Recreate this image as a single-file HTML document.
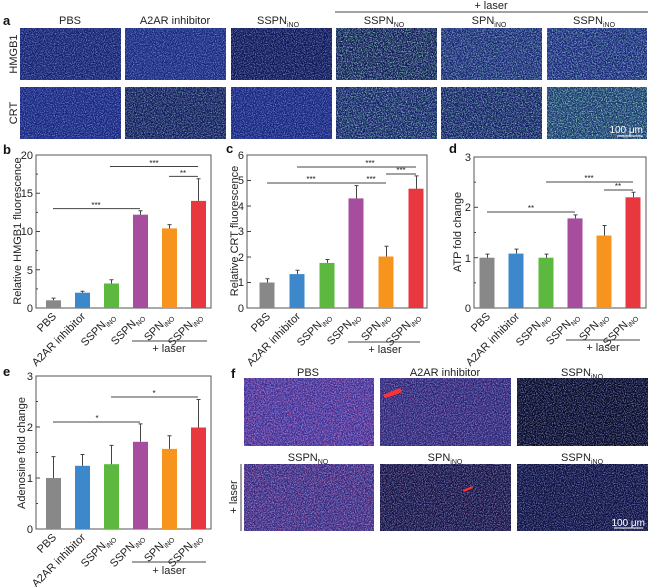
<!DOCTYPE html>
<html><head><meta charset="utf-8"><style>
html,body{margin:0;padding:0;background:#fff}
svg{display:block;font-family:"Liberation Sans",Arial,sans-serif}
</style></head><body>
<svg width="650" height="587" viewBox="0 0 650 587" xmlns="http://www.w3.org/2000/svg">
<defs>
<filter id="nb" x="0" y="0" width="1" height="1"><feTurbulence type="fractalNoise" baseFrequency="0.9" numOctaves="2" seed="3"/><feColorMatrix type="matrix" values="0 0 0 0 0.3  0 0 0 0 0.4  0 0 0 0 0.95  0 0 0 -2.6 1.5"/></filter>
<filter id="ng" x="0" y="0" width="1" height="1"><feTurbulence type="fractalNoise" baseFrequency="0.8" numOctaves="1" seed="8"/><feColorMatrix type="matrix" values="0 0 0 0 0.3  0 0 0 0 0.9  0 0 0 0 0.5  0 0 0 -4 2.0"/></filter>
<filter id="nr" x="0" y="0" width="1" height="1"><feTurbulence type="fractalNoise" baseFrequency="0.7" numOctaves="2" seed="5"/><feColorMatrix type="matrix" values="0 0 0 0 0.95  0 0 0 0 0.2  0 0 0 0 0.45  0 0 0 -3.5 1.8"/></filter>
</defs>
<style>
.t{font-size:11px;fill:#222}
.s{font-size:7px}
.ax{fill:none;stroke:#555;stroke-width:1}
.l{stroke:#444;stroke-width:1}
.e{stroke:#444;stroke-width:1}
.st{font-size:8px;fill:#222;text-anchor:middle}
.pl{font-size:13px;font-weight:bold;fill:#111}
.nb{opacity:0.75}
</style>

<!-- Panel a -->
<text class="pl" x="3" y="25">a</text>
<line x1="335" y1="12" x2="648" y2="12" class="l"/>
<text class="t" x="491" y="9" text-anchor="middle">+ laser</text>
<g class="t" text-anchor="middle">
<text x="70" y="24">PBS</text>
<text x="175" y="24">A2AR inhibitor</text>
<text x="278" y="24">SSPN<tspan class="s" dy="3">iNO</tspan></text>
<text x="384" y="24">SSPN<tspan class="s" dy="3">NO</tspan></text>
<text x="489" y="24">SPN<tspan class="s" dy="3">iNO</tspan></text>
<text x="594" y="24">SSPN<tspan class="s" dy="3">iNO</tspan></text>
</g>
<text class="t" transform="translate(17,54) rotate(-90)" text-anchor="middle">HMGB1</text>
<text class="t" transform="translate(17,113) rotate(-90)" text-anchor="middle">CRT</text>
<g>
<rect x="20" y="28" width="101" height="52" fill="#14206a"/><rect class="nb" x="20" y="28" width="101" height="52" filter="url(#nb)"/>
<rect x="125" y="28" width="101" height="52" fill="#18287a"/><rect class="nb" x="125" y="28" width="101" height="52" filter="url(#nb)"/>
<rect x="231" y="28" width="101" height="52" fill="#0e1650"/><rect class="nb" x="231" y="28" width="101" height="52" filter="url(#nb)"/>
<rect x="336" y="28" width="101" height="52" fill="#0c1448"/><rect class="nb" x="336" y="28" width="101" height="52" filter="url(#nb)"/><rect x="336" y="28" width="101" height="52" filter="url(#ng)" opacity="0.7"/>
<rect x="441" y="28" width="101" height="52" fill="#14206a"/><rect class="nb" x="441" y="28" width="101" height="52" filter="url(#nb)"/><rect x="441" y="28" width="101" height="52" filter="url(#ng)" opacity="0.6"/>
<rect x="547" y="28" width="100" height="52" fill="#142070"/><rect class="nb" x="547" y="28" width="100" height="52" filter="url(#nb)"/><rect x="547" y="28" width="100" height="52" filter="url(#ng)" opacity="0.6"/>
<rect x="20" y="87" width="101" height="52" fill="#16247a"/><rect class="nb" x="20" y="87" width="101" height="52" filter="url(#nb)"/>
<rect x="125" y="87" width="101" height="52" fill="#0e1650"/><rect class="nb" x="125" y="87" width="101" height="52" filter="url(#nb)"/><rect x="125" y="87" width="101" height="52" filter="url(#ng)" opacity="0.35"/>
<rect x="231" y="87" width="101" height="52" fill="#16247a"/><rect class="nb" x="231" y="87" width="101" height="52" filter="url(#nb)"/>
<rect x="336" y="87" width="101" height="52" fill="#0e1858"/><rect class="nb" x="336" y="87" width="101" height="52" filter="url(#nb)"/><rect x="336" y="87" width="101" height="52" filter="url(#ng)" opacity="0.7"/>
<rect x="441" y="87" width="101" height="52" fill="#0e1858"/><rect class="nb" x="441" y="87" width="101" height="52" filter="url(#nb)"/><rect x="441" y="87" width="101" height="52" filter="url(#ng)" opacity="0.6"/>
<rect x="547" y="87" width="100" height="52" fill="#123060"/><rect class="nb" x="547" y="87" width="100" height="52" filter="url(#nb)"/><rect x="547" y="87" width="100" height="52" filter="url(#ng)" opacity="0.8"/>
</g>
<text x="643" y="133" font-size="10" fill="#fff" text-anchor="end">100 μm</text>
<line x1="617" y1="136" x2="643" y2="136" stroke="#fff"/>

<!-- Panel b -->
<text class="pl" x="3" y="154">b</text>
<rect x="36" y="155" width="175" height="153" class="ax"/>
<g class="l">
<line x1="36" y1="269.75" x2="40" y2="269.75"/><line x1="36" y1="231.5" x2="40" y2="231.5"/><line x1="36" y1="193.25" x2="40" y2="193.25"/>
<line x1="36" y1="288.9" x2="38" y2="288.9"/><line x1="36" y1="250.6" x2="38" y2="250.6"/><line x1="36" y1="212.4" x2="38" y2="212.4"/><line x1="36" y1="174.1" x2="38" y2="174.1"/>
</g>
<g class="t" text-anchor="end"><text x="33" y="312">0</text><text x="33" y="274">5</text><text x="33" y="235">10</text><text x="33" y="197">15</text><text x="33" y="159">20</text></g>
<text class="t" transform="translate(21,231) rotate(-90)" text-anchor="middle">Relative HMGB1 fluorescence</text>
<rect x="46" y="300.3" width="15" height="7.7" fill="#888"/>
<rect x="75" y="292.7" width="15" height="15.3" fill="#3d87cb"/>
<rect x="104" y="283.5" width="15" height="24.5" fill="#5cb83e"/>
<rect x="133" y="214.7" width="15" height="93.3" fill="#a64d9e"/>
<rect x="162" y="228.4" width="15" height="79.6" fill="#f7941d"/>
<rect x="191" y="200.9" width="15" height="107.1" fill="#e8373f"/>
<g class="e">
<path d="M53.5 300.3V298.1M51.5 298.1h4M82.5 292.7V291.2M80.5 291.2h4M111.5 283.5V279.7M109.5 279.7h4M140.5 214.7V210.8M138.5 210.8h4M169.5 228.4V224.6M167.5 224.6h4M198.5 200.9V178.7M196.5 178.7h4"/>
</g>
<g class="l"><line x1="53" y1="208.6" x2="140" y2="208.6"/><line x1="110" y1="166.5" x2="198" y2="166.5"/><line x1="169" y1="176.4" x2="198" y2="176.4"/></g>
<text class="st" x="96" y="208">***</text><text class="st" x="154" y="166">***</text><text class="st" x="183" y="176">**</text>

<!-- Panel c -->
<text class="pl" x="226" y="153">c</text>
<rect x="247" y="155" width="180" height="153" class="ax"/>
<g class="l">
<line x1="247" y1="282.5" x2="251" y2="282.5"/><line x1="247" y1="257" x2="251" y2="257"/><line x1="247" y1="231.5" x2="251" y2="231.5"/><line x1="247" y1="206" x2="251" y2="206"/><line x1="247" y1="180.5" x2="251" y2="180.5"/>
</g>
<g class="t" text-anchor="end"><text x="244" y="312">0</text><text x="244" y="286">1</text><text x="244" y="261">2</text><text x="244" y="235">3</text><text x="244" y="210">4</text><text x="244" y="184">5</text><text x="244" y="159">6</text></g>
<text class="t" transform="translate(238,231) rotate(-90)" text-anchor="middle">Relative CRT fluorescence</text>
<rect x="259.5" y="282.5" width="15" height="25.5" fill="#888"/>
<rect x="289.5" y="274.1" width="15" height="33.9" fill="#3d87cb"/>
<rect x="319.5" y="262.9" width="15" height="45.1" fill="#5cb83e"/>
<rect x="348.5" y="198.4" width="15" height="109.6" fill="#a64d9e"/>
<rect x="378.5" y="256.5" width="15" height="51.5" fill="#f7941d"/>
<rect x="408.5" y="188.7" width="15" height="119.3" fill="#e8373f"/>
<g class="e">
<path d="M267.5 282.5V278.7M265.5 278.7h4M297.5 274.1V270.3M295.5 270.3h4M327.5 262.9V259.5M325.5 259.5h4M356.5 198.4V185.6M354.5 185.6h4M386.5 256.5V246.3M384.5 246.3h4M416.5 188.7V175.9M414.5 175.9h4"/>
</g>
<g class="l"><line x1="267" y1="183" x2="356" y2="183"/><line x1="297" y1="167" x2="416" y2="167"/><line x1="356" y1="183" x2="386" y2="183"/><line x1="386" y1="174" x2="416" y2="174"/></g>
<text class="st" x="311" y="182">***</text><text class="st" x="370" y="166">***</text><text class="st" x="371" y="182">***</text><text class="st" x="401" y="173">***</text>

<!-- Panel d -->
<text class="pl" x="449" y="153">d</text>
<rect x="474" y="157" width="172" height="151" class="ax"/>
<g class="l">
<line x1="474" y1="257.7" x2="478" y2="257.7"/><line x1="474" y1="207.3" x2="478" y2="207.3"/>
<line x1="474" y1="282.8" x2="476" y2="282.8"/><line x1="474" y1="232.5" x2="476" y2="232.5"/><line x1="474" y1="182.2" x2="476" y2="182.2"/>
</g>
<g class="t" text-anchor="end"><text x="471" y="312">0</text><text x="471" y="262">1</text><text x="471" y="211">2</text><text x="471" y="161">3</text></g>
<text class="t" transform="translate(461,232) rotate(-90)" text-anchor="middle">ATP fold change</text>
<rect x="479.5" y="257.7" width="15" height="50.3" fill="#888"/>
<rect x="508.5" y="253.6" width="15" height="54.4" fill="#3d87cb"/>
<rect x="538.5" y="257.7" width="15" height="50.3" fill="#5cb83e"/>
<rect x="567.5" y="218.4" width="15" height="89.6" fill="#a64d9e"/>
<rect x="596.5" y="235.5" width="15" height="72.5" fill="#f7941d"/>
<rect x="625.5" y="197.3" width="15" height="110.7" fill="#e8373f"/>
<g class="e">
<path d="M487.5 257.7V254.1M485.5 254.1h4M516.5 253.6V249.1M514.5 249.1h4M546.5 257.7V254.1M544.5 254.1h4M575.5 218.4V214.9M573.5 214.9h4M604.5 235.5V225.5M602.5 225.5h4M633.5 197.3V192.2M631.5 192.2h4"/>
</g>
<g class="l"><line x1="487" y1="212" x2="575" y2="212"/><line x1="546" y1="182" x2="633" y2="182"/><line x1="604" y1="190" x2="633" y2="190"/></g>
<text class="st" x="531" y="211">**</text><text class="st" x="589" y="181">***</text><text class="st" x="618" y="189">**</text>

<!-- x labels b,c,d -->
<g class="t" text-anchor="end">
<text transform="translate(57,317) rotate(-45)">PBS</text>
<text transform="translate(86,317) rotate(-45)">A2AR inhibitor</text>
<text transform="translate(115,317) rotate(-45)">SSPN<tspan class="s" dy="3">iNO</tspan></text>
<text transform="translate(144,317) rotate(-45)">SSPN<tspan class="s" dy="3">NO</tspan></text>
<text transform="translate(173,317) rotate(-45)">SPN<tspan class="s" dy="3">iNO</tspan></text>
<text transform="translate(202,317) rotate(-45)">SSPN<tspan class="s" dy="3">iNO</tspan></text>
<text transform="translate(271,317) rotate(-45)">PBS</text>
<text transform="translate(301,317) rotate(-45)">A2AR inhibitor</text>
<text transform="translate(331,317) rotate(-45)">SSPN<tspan class="s" dy="3">iNO</tspan></text>
<text transform="translate(360,317) rotate(-45)">SSPN<tspan class="s" dy="3">NO</tspan></text>
<text transform="translate(390,317) rotate(-45)">SPN<tspan class="s" dy="3">iNO</tspan></text>
<text transform="translate(420,317) rotate(-45)">SSPN<tspan class="s" dy="3">iNO</tspan></text>
<text transform="translate(491,317) rotate(-45)">PBS</text>
<text transform="translate(520,317) rotate(-45)">A2AR inhibitor</text>
<text transform="translate(550,317) rotate(-45)">SSPN<tspan class="s" dy="3">iNO</tspan></text>
<text transform="translate(579,317) rotate(-45)">SSPN<tspan class="s" dy="3">NO</tspan></text>
<text transform="translate(608,317) rotate(-45)">SPN<tspan class="s" dy="3">iNO</tspan></text>
<text transform="translate(637,317) rotate(-45)">SSPN<tspan class="s" dy="3">iNO</tspan></text>
</g>
<g class="l"><line x1="132" y1="341" x2="207" y2="341"/><line x1="348" y1="342" x2="420" y2="342"/><line x1="566" y1="340" x2="640" y2="340"/></g>
<g class="t" text-anchor="middle"><text x="169" y="352">+ laser</text><text x="385" y="353">+ laser</text><text x="603" y="351">+ laser</text></g>

<!-- Panel e -->
<text class="pl" x="3" y="376">e</text>
<rect x="36" y="376" width="175" height="153" class="ax"/>
<g class="l">
<line x1="36" y1="478" x2="40" y2="478"/><line x1="36" y1="427" x2="40" y2="427"/>
<line x1="36" y1="503.5" x2="38" y2="503.5"/><line x1="36" y1="452.5" x2="38" y2="452.5"/><line x1="36" y1="401.5" x2="38" y2="401.5"/>
</g>
<g class="t" text-anchor="end"><text x="33" y="533">0</text><text x="33" y="482">1</text><text x="33" y="431">2</text><text x="33" y="380">3</text></g>
<text class="t" transform="translate(25,453) rotate(-90)" text-anchor="middle">Adenosine fold change</text>
<rect x="46" y="478" width="15" height="51" fill="#888"/>
<rect x="75" y="465.8" width="15" height="63.2" fill="#3d87cb"/>
<rect x="104" y="464.2" width="15" height="64.8" fill="#5cb83e"/>
<rect x="133" y="441.8" width="15" height="87.2" fill="#a64d9e"/>
<rect x="162" y="448.9" width="15" height="80.1" fill="#f7941d"/>
<rect x="191" y="427.5" width="15" height="101.5" fill="#e8373f"/>
<g class="e">
<path d="M53.5 478V456.6M51.5 456.6h4M82.5 465.8V454.5M80.5 454.5h4M111.5 464.2V445.4M109.5 445.4h4M140.5 441.8V423.9M138.5 423.9h4M169.5 448.9V435.7M167.5 435.7h4M198.5 427.5V399.5M196.5 399.5h4"/>
</g>
<g class="l"><line x1="53" y1="422" x2="140" y2="422"/><line x1="111" y1="397" x2="198" y2="397"/></g>
<text class="st" x="97" y="421">*</text><text class="st" x="154" y="396">*</text>
<g class="t" text-anchor="end">
<text transform="translate(57,538) rotate(-45)">PBS</text>
<text transform="translate(86,538) rotate(-45)">A2AR inhibitor</text>
<text transform="translate(115,538) rotate(-45)">SSPN<tspan class="s" dy="3">iNO</tspan></text>
<text transform="translate(144,538) rotate(-45)">SSPN<tspan class="s" dy="3">iNO</tspan></text>
<text transform="translate(173,538) rotate(-45)">SPN<tspan class="s" dy="3">iNO</tspan></text>
<text transform="translate(202,538) rotate(-45)">SSPN<tspan class="s" dy="3">iNO</tspan></text>
</g>
<line x1="132" y1="562" x2="206" y2="562" class="l"/>
<text class="t" x="169" y="574" text-anchor="middle">+ laser</text>

<!-- Panel f -->
<text class="pl" x="231" y="378">f</text>
<g class="t" text-anchor="middle">
<text x="308" y="376">PBS</text>
<text x="445" y="376">A2AR inhibitor</text>
<text x="582" y="376">SSPN<tspan class="s" dy="3">iNO</tspan></text>
<text x="308" y="461">SSPN<tspan class="s" dy="3">NO</tspan></text>
<text x="445" y="461">SPN<tspan class="s" dy="3">iNO</tspan></text>
<text x="582" y="461">SSPN<tspan class="s" dy="3">iNO</tspan></text>
</g>
<line x1="241" y1="464" x2="241" y2="531" class="l"/>
<text class="t" transform="translate(237,497) rotate(-90)" text-anchor="middle">+ laser</text>
<g>
<rect x="244" y="378" width="130" height="68" fill="#3a2a90"/><rect class="nb" x="244" y="378" width="130" height="68" filter="url(#nb)"/><rect x="244" y="378" width="130" height="68" filter="url(#nr)" opacity="0.6"/>
<rect x="380" y="378" width="131" height="68" fill="#24206e"/><rect class="nb" x="380" y="378" width="131" height="68" filter="url(#nb)"/><rect x="380" y="378" width="131" height="68" filter="url(#nr)" opacity="0.35"/>
<rect x="517" y="378" width="131" height="68" fill="#080820"/><rect class="nb" x="517" y="378" width="131" height="68" filter="url(#nb)"/>
<rect x="244" y="464" width="130" height="67" fill="#2e2478"/><rect class="nb" x="244" y="464" width="130" height="67" filter="url(#nb)"/><rect x="244" y="464" width="130" height="67" filter="url(#nr)" opacity="0.6"/>
<rect x="380" y="464" width="131" height="67" fill="#0e0e38"/><rect class="nb" x="380" y="464" width="131" height="67" filter="url(#nb)"/><rect x="380" y="464" width="131" height="67" filter="url(#nr)" opacity="0.25"/>
<rect x="517" y="464" width="131" height="67" fill="#0e0e38"/><rect class="nb" x="517" y="464" width="131" height="67" filter="url(#nb)"/>
</g>
<path d="M383 395 L400 388 L402 392 L386 398Z" fill="#ff3030"/>
<path d="M463 490 L472 486 L473 488 L464 492Z" fill="#ff3030"/>
<text x="645" y="526" font-size="10" fill="#fff" text-anchor="end">100 μm</text>
<line x1="614" y1="528" x2="643" y2="528" stroke="#fff"/>
</svg>
</body></html>
